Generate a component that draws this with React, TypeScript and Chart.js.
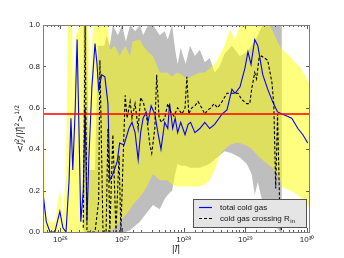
import React, { useEffect, useRef } from 'react';
import { Chart, registerables } from 'chart.js';
Chart.register(...registerables);

// ---- data (x stored as log10 |l|) ----
const xMinExp = 25.717;
const xMaxExp = 30.03;
const yTicks = [0, 0.2, 0.4, 0.6, 0.8, 1.0];
const refLevel = 0.57;

const totalExp = [25.72, 25.77, 25.83, 25.91, 25.99, 26.04, 26.09, 26.14, 26.17, 26.2, 26.24, 26.27, 26.3, 26.33, 26.37, 26.4, 26.43, 26.46, 26.51, 26.56, 26.59, 26.62, 26.67, 26.72, 26.77, 26.8, 26.85, 26.92, 26.96, 27.03, 27.11, 27.16, 27.21, 27.26, 27.3, 27.34, 27.39, 27.42, 27.47, 27.53, 27.58, 27.63, 27.69, 27.74, 27.77, 27.82, 27.86, 27.9, 27.95, 28.02, 28.07, 28.11, 28.18, 28.26, 28.34, 28.42, 28.5, 28.62, 28.7, 28.78, 28.83, 28.91, 28.99, 29.04, 29.09, 29.15, 29.2, 29.28, 29.36, 29.44, 29.52, 29.59, 29.67, 29.75, 29.85, 29.93, 30.01];
const totalVal = [0.18, 0.05, 0.0, 0.0, 0.1, 0.02, 0.0, 0.25, 0.55, 0.3, 0.6, 0.93, 0.5, 0.05, 0.2, 0.6, 0.05, 0.35, 0.7, 0.91, 0.82, 0.69, 0.76, 0.75, 0.62, 0.25, 0.28, 0.34, 0.43, 0.42, 0.5, 0.53, 0.48, 0.35, 0.48, 0.55, 0.58, 0.53, 0.61, 0.57, 0.48, 0.4, 0.53, 0.5, 0.62, 0.5, 0.55, 0.48, 0.53, 0.47, 0.52, 0.53, 0.48, 0.5, 0.53, 0.5, 0.52, 0.57, 0.59, 0.69, 0.67, 0.7, 0.79, 0.87, 0.81, 0.93, 0.9, 0.76, 0.69, 0.63, 0.58, 0.57, 0.56, 0.55, 0.5, 0.47, 0.43];

const crossExp = [26.37, 26.4, 26.43, 26.56, 26.62, 26.64, 26.69, 26.74, 26.77, 26.8, 26.85, 26.9, 26.95, 26.98, 27.01, 27.05, 27.08, 27.13, 27.16, 27.21, 27.26, 27.3, 27.35, 27.4, 27.45, 27.48, 27.53, 27.56, 27.6, 27.64, 27.69, 27.74, 27.79, 27.84, 27.9, 27.97, 28.02, 28.05, 28.08, 28.13, 28.18, 28.23, 28.29, 28.34, 28.39, 28.44, 28.49, 28.55, 28.62, 28.7, 28.78, 28.88, 28.94, 29.02, 29.07, 29.1, 29.15, 29.18, 29.22, 29.26, 29.31, 29.36, 29.43, 29.46, 29.49, 29.52, 29.56, 29.59];
const crossVal = [0.02, 1.0, 0.0, 0.0, 0.15, 0.83, 0.0, 0.0, 0.5, 0.0, 0.47, 0.0, 0.37, 0.0, 0.3, 0.66, 0.55, 0.63, 0.55, 0.62, 0.5, 0.65, 0.62, 0.55, 0.42, 0.38, 0.5, 0.76, 0.55, 0.53, 0.55, 0.62, 0.58, 0.56, 0.6, 0.57, 0.6, 0.75, 0.57, 0.6, 0.61, 0.63, 0.6, 0.57, 0.59, 0.6, 0.62, 0.6, 0.63, 0.67, 0.67, 0.67, 0.64, 0.62, 0.62, 0.69, 0.77, 0.74, 0.84, 0.85, 0.84, 0.83, 0.72, 0.61, 0.21, 0.57, 0.05, 0.0];

const grayExp = [26.37, 26.4, 26.43, 26.46, 26.56, 26.61, 26.71, 26.75, 26.8, 26.85, 26.93, 27.0, 27.06, 27.13, 27.21, 27.29, 27.34, 27.42, 27.5, 27.61, 27.69, 27.74, 27.81, 27.86, 27.9, 27.95, 28.03, 28.1, 28.18, 28.26, 28.34, 28.42, 28.5, 28.58, 28.66, 28.78, 28.91, 29.02, 29.1, 29.15, 29.2, 29.28, 29.36, 29.44, 29.49, 29.56, 29.59];
const grayHi = [1.0, 1.0, 1.0, 0.3, 0.3, 0.9, 0.9, 0.95, 0.9, 1.0, 0.95, 1.0, 0.92, 1.0, 0.97, 1.0, 0.95, 1.0, 1.0, 0.95, 0.97, 0.93, 1.0, 0.88, 0.81, 0.89, 0.81, 0.9, 0.85, 0.88, 0.82, 0.84, 0.77, 0.8, 0.86, 0.9, 0.85, 0.87, 0.9, 0.92, 0.95, 1.0, 1.0, 1.0, 1.0, 1.0, 1.0];
const grayLo = [0, 0, 0, 0, 0, 0, 0, 0, 0, 0, 0, 0, 0, 0.01, 0.03, 0.05, 0.07, 0.1, 0.13, 0.11, 0.16, 0.18, 0.2, 0.28, 0.33, 0.32, 0.32, 0.31, 0.31, 0.31, 0.32, 0.33, 0.35, 0.37, 0.39, 0.38, 0.36, 0.33, 0.28, 0.18, 0.24, 0.14, 0.1, 0.07, 0.03, 0.0, 0.0];

const yellowExp = [25.72, 25.75, 25.83, 25.91, 25.99, 26.04, 26.09, 26.12, 26.19, 26.2, 26.25, 26.32, 26.45, 26.48, 26.53, 26.77, 26.8, 26.88, 26.96, 27.05, 27.13, 27.17, 27.29, 27.34, 27.42, 27.5, 27.61, 27.73, 27.81, 27.89, 27.97, 28.05, 28.18, 28.26, 28.34, 28.42, 28.5, 28.58, 28.66, 28.75, 28.83, 28.91, 28.99, 29.07, 29.23, 29.31, 29.39, 29.44, 29.52, 29.59, 29.72, 29.8, 29.88, 29.96, 30.03];
const yellowHi = [0.88, 0.1, 0.05, 0.05, 0.21, 0.08, 0.3, 1.0, 1.0, 0.6, 0.95, 1.0, 1.0, 0.7, 1.0, 1.0, 0.88, 0.9, 0.85, 0.9, 0.85, 0.92, 0.93, 0.9, 0.87, 0.85, 0.77, 0.77, 0.75, 0.77, 0.76, 0.74, 0.76, 0.77, 0.77, 0.79, 0.81, 0.85, 0.9, 0.98, 0.93, 1.0, 1.0, 1.0, 1.0, 1.0, 1.0, 0.97, 0.92, 0.88, 0.85, 0.82, 0.8, 0.76, 0.72];
const yellowLo = [0, 0, 0, 0, 0, 0, 0, 0, 0, 0, 0, 0, 0, 0, 0, 0, 0, 0.02, 0.05, 0.08, 0.11, 0.13, 0.17, 0.19, 0.23, 0.28, 0.25, 0.25, 0.23, 0.22, 0.22, 0.22, 0.22, 0.22, 0.23, 0.25, 0.3, 0.37, 0.4, 0.42, 0.43, 0.43, 0.42, 0.41, 0.36, 0.34, 0.32, 0.31, 0.28, 0.22, 0.2, 0.19, 0.17, 0.15, 0.12];

const legendTotal = 'total cold gas';
const legendCross = 'cold gas crossing R';
const legendCrossSub = 'in';

const pts = (ex: number[], v: number[]) => ex.map((e, i) => ({ x: Math.pow(10, e), y: v[i] }));
const SUP: Record<string, string> = { '0': '⁰', '1': '¹', '2': '²', '3': '³', '4': '⁴', '5': '⁵', '6': '⁶', '7': '⁷', '8': '⁸', '9': '⁹' };
const isMajor = (v: number) => Math.abs(Math.log10(v) - Math.round(Math.log10(v))) < 1e-6;

const FONT = '"Liberation Sans", Arial, sans-serif';

type Seg = { t?: string; sup?: string; sub?: string; it?: boolean };
function drawRich(ctx: CanvasRenderingContext2D, segs: Seg[], cx: number, cy: number, rot: number, base: number) {
  ctx.save();
  ctx.translate(cx, cy);
  ctx.rotate(rot);
  const small = Math.round(base * 0.68);
  const widths = segs.map((s) => {
    if (s.t) {
      ctx.font = `${s.it ? 'italic ' : ''}${base}px "DejaVu Sans"`;
      return ctx.measureText(s.t).width;
    }
    ctx.font = `${s.it ? 'italic ' : ''}${small}px "DejaVu Sans"`;
    return Math.max(s.sup ? ctx.measureText(s.sup).width : 0, s.sub ? ctx.measureText(s.sub).width : 0) + 0.5;
  });
  const total = widths.reduce((a, b) => a + b, 0);
  let x = -total / 2;
  const by = base * 0.35;
  ctx.fillStyle = '#111';
  ctx.textAlign = 'left';
  ctx.textBaseline = 'alphabetic';
  segs.forEach((s, i) => {
    if (s.t) {
      ctx.font = `${s.it ? 'italic ' : ''}${base}px "DejaVu Sans"`;
      ctx.fillText(s.t, x, by);
    } else {
      ctx.font = `${s.it ? 'italic ' : ''}${small}px "DejaVu Sans"`;
      if (s.sup) ctx.fillText(s.sup, x, by - base * 0.42);
      if (s.sub) ctx.fillText(s.sub, x, by + base * 0.25);
    }
    x += widths[i];
  });
  ctx.restore();
}

const decor = {
  id: 'decor',
  afterDraw(chart: any) {
    const ctx: CanvasRenderingContext2D = chart.ctx;
    const ca = chart.chartArea;
    const xs = chart.scales.x;
    const ys = chart.scales.y;
    ctx.save();
    // ticks (inside, all four sides)
    ctx.strokeStyle = '#333';
    ctx.lineWidth = 0.8;
    ctx.beginPath();
    xs.ticks.forEach((t: any) => {
      const px = Math.round(xs.getPixelForValue(t.value)) + 0.5;
      if (px < ca.left + 1 || px > ca.right - 1) return;
      const len = isMajor(t.value) ? 4 : 2;
      ctx.moveTo(px, ca.bottom);
      ctx.lineTo(px, ca.bottom - len);
      ctx.moveTo(px, ca.top);
      ctx.lineTo(px, ca.top + len);
    });
    ys.ticks.forEach((t: any) => {
      const py = Math.round(ys.getPixelForValue(t.value)) + 0.5;
      ctx.moveTo(ca.left, py);
      ctx.lineTo(ca.left + 3, py);
      ctx.moveTo(ca.right, py);
      ctx.lineTo(ca.right - 3, py);
    });
    ctx.stroke();
    // frame
    ctx.strokeStyle = '#7f7f7f';
    ctx.lineWidth = 1;
    ctx.strokeRect(Math.round(ca.left) + 0.5, Math.round(ca.top) + 0.5, Math.round(ca.right - ca.left), Math.round(ca.bottom - ca.top));

    // legend
    const bw = 113, bh = 28;
    const bx = Math.round(ca.right - 116), by = Math.round(ca.bottom - 5 - bh);
    ctx.fillStyle = '#e5e5e5';
    ctx.fillRect(bx, by, bw, bh);
    ctx.strokeStyle = '#555';
    ctx.strokeRect(bx + 0.5, by + 0.5, bw, bh);
    const r1 = by + 8, r2 = by + 19;
    ctx.lineWidth = 1.2;
    ctx.strokeStyle = '#0000ff';
    ctx.beginPath();
    ctx.moveTo(bx + 6, r1 + 0.5);
    ctx.lineTo(bx + 19, r1 + 0.5);
    ctx.stroke();
    ctx.strokeStyle = '#000';
    ctx.setLineDash([3, 2]);
    ctx.beginPath();
    ctx.moveTo(bx + 6, r2 + 0.5);
    ctx.lineTo(bx + 19, r2 + 0.5);
    ctx.stroke();
    ctx.setLineDash([]);
    ctx.fillStyle = '#111';
    ctx.font = `8px ${FONT}`;
    ctx.textBaseline = 'middle';
    ctx.textAlign = 'left';
    ctx.fillText(legendTotal, bx + 27, r1 + 1);
    ctx.fillText(legendCross, bx + 27, r2 + 1);
    const w = ctx.measureText(legendCross).width;
    ctx.font = `6px ${FONT}`;
    ctx.fillText(legendCrossSub, bx + 27 + w + 0.5, r2 + 3);

    // axis titles
    drawRich(
      ctx,
      [
        { t: '<' },
        { t: 'l', it: true },
        { sub: 'z', sup: '2', it: true },
        { t: '/|' },
        { t: 'l\u20D7', it: true },
        { t: '|' },
        { sup: '2' },
        { t: '>' },
        { sup: '1/2' },
      ],
      20,
      (ca.top + ca.bottom) / 2,
      -Math.PI / 2,
      9
    );
    drawRich(ctx, [{ t: '|' }, { t: 'l\u20D7', it: true }, { t: '|' }], (ca.left + ca.right) / 2, 249, 0, 9);
    ctx.restore();
  },
};

export default function App() {
  const ref = useRef<HTMLCanvasElement>(null);
  useEffect(() => {
    if (!ref.current) return;
    const base = { pointRadius: 0, pointHoverRadius: 0, tension: 0 };
    const xmin = Math.pow(10, xMinExp);
    const xmax = Math.pow(10, xMaxExp);
    const chart = new Chart(ref.current, {
      type: 'line',
      data: {
        datasets: [
          { ...base, label: 'grayHi', data: pts(grayExp, grayHi), borderWidth: 0, borderColor: 'rgba(0,0,0,0)', backgroundColor: '#bebebe', fill: '+1', order: 10 },
          { ...base, label: 'grayLo', data: pts(grayExp, grayLo), borderWidth: 0, borderColor: 'rgba(0,0,0,0)', fill: false, order: 10 },
          { ...base, label: 'yellowHi', data: pts(yellowExp, yellowHi), borderWidth: 0, borderColor: 'rgba(0,0,0,0)', backgroundColor: 'rgba(255,255,0,0.5)', fill: '+1', order: 9 },
          { ...base, label: 'yellowLo', data: pts(yellowExp, yellowLo), borderWidth: 0, borderColor: 'rgba(0,0,0,0)', fill: false, order: 9 },
          { ...base, label: legendTotal, data: pts(totalExp, totalVal), borderColor: '#0000ff', borderWidth: 1.1, fill: false, order: 3 },
          { ...base, label: legendCross + legendCrossSub, data: pts(crossExp, crossVal), borderColor: '#000000', borderWidth: 1.1, borderDash: [3, 2], fill: false, order: 2 },
          { ...base, label: 'ref', data: [{ x: xmin, y: refLevel }, { x: xmax, y: refLevel }], borderColor: '#ff0000', borderWidth: 1.5, fill: false, order: 1 },
        ],
      },
      options: {
        responsive: false,
        animation: false,
        events: [],
        layout: { padding: { left: 0, right: 35, top: 25, bottom: 0 } },
        plugins: { legend: { display: false }, tooltip: { enabled: false } },
        scales: {
          x: {
            type: 'logarithmic',
            min: xmin,
            max: xmax,
            grid: { display: false, drawTicks: false },
            border: { display: false },
            afterFit: (s: any) => { s.height = 26; },
            ticks: {
              autoSkip: false,
              maxRotation: 0,
              padding: 3,
              color: '#222',
              font: { family: FONT, size: 8 },
              callback: (v: any) => {
                const n = Number(v);
                if (!isMajor(n)) return '';
                const e = String(Math.round(Math.log10(n)));
                return '10' + e.split('').map((c) => SUP[c] || c).join('');
              },
            },
          },
          y: {
            type: 'linear',
            min: 0,
            max: 1,
            grid: { display: false, drawTicks: false },
            border: { display: false },
            afterFit: (s: any) => { s.width = 43; },
            afterBuildTicks: (s: any) => { s.ticks = yTicks.map((v) => ({ value: v })); },
            ticks: {
              padding: 3,
              color: '#222',
              font: { family: FONT, size: 8 },
              callback: (v: any) => Number(v).toFixed(1),
            },
          },
        },
      },
      plugins: [decor],
    } as any);
    return () => chart.destroy();
  }, []);
  return (
    <div style={{ position: 'absolute', left: 0, top: 0, width: 344, height: 258, background: '#fff' }}>
      <canvas ref={ref} width={344} height={258} style={{ display: 'block', width: 344, height: 258 }} />
    </div>
  );
}
